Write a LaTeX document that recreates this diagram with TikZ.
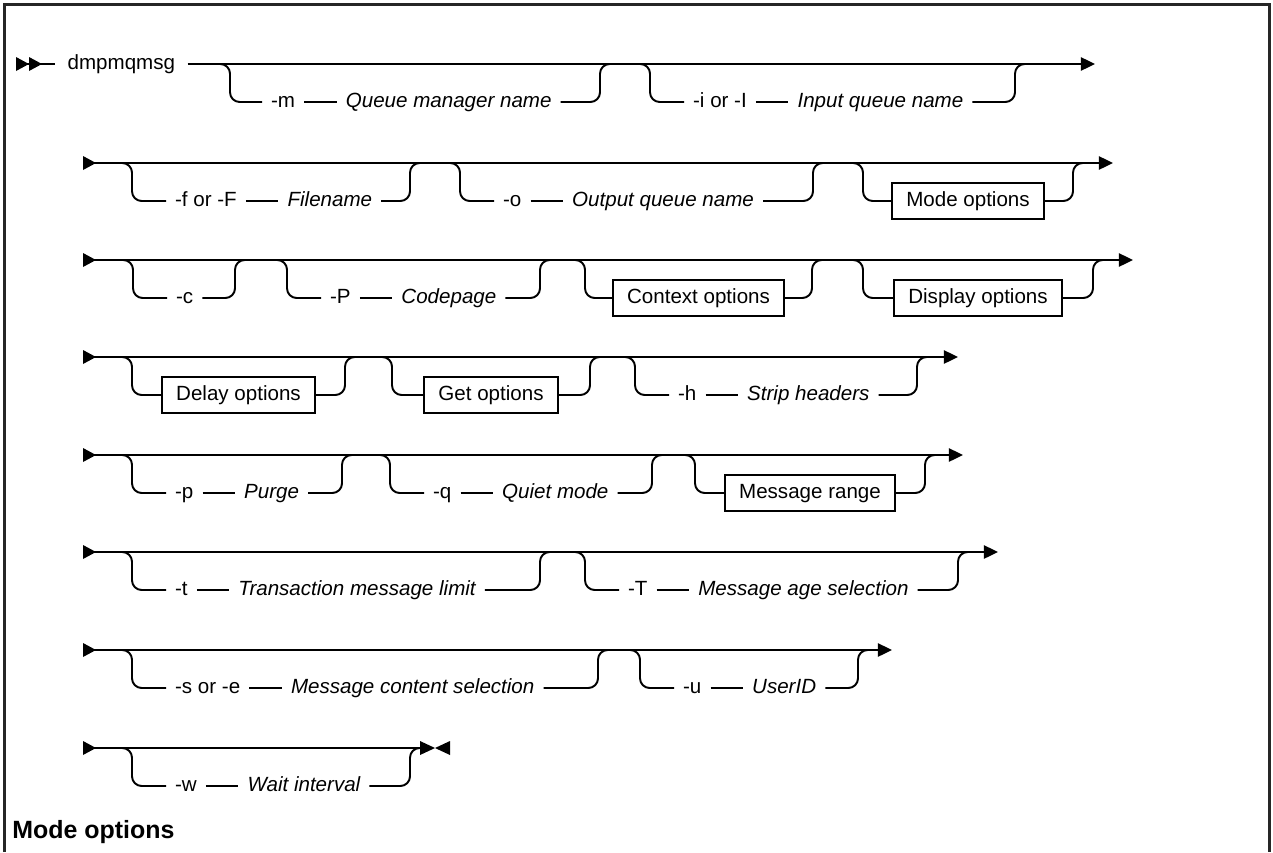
\documentclass[tikz,border=0pt]{standalone}
\usepackage{fontspec}
\setmainfont{Liberation Sans}
\usetikzlibrary{arrows.meta,positioning}

% filled start triangle of a rail row
\newcommand\railhead[1]{\fill (#1) +(0,-7) -- +(13,0) -- +(0,7) -- cycle;}

\begin{document}
\fontsize{11.7}{14}\selectfont
\begin{tikzpicture}[x=0.02cm,y=-0.02cm,
  rail/.style={line width=1.1pt, rounded corners=5.5pt},
  go/.style={-{Triangle[length=8pt,width=7.5pt]}},
  flag/.style={anchor=west, inner xsep=5pt, inner ysep=0pt, text height=1.55ex, text depth=.45ex},
  var/.style={flag, font=\itshape},
  optbox/.style={draw, line width=1.1pt, minimum height=0.72cm, inner xsep=8pt, text height=1.55ex, text depth=.45ex},
  node distance=0.65cm]
\useasboundingbox (0,0) rectangle (1273,852);

% frame
\draw[line width=1.7pt, black!85] (4.5,852) -- (4.5,4.5) -- (1269.5,4.5) -- (1269.5,852);

% row starts and ends
\coordinate (r1s) at (16,64);    \coordinate (r1e) at (1095,64);
\coordinate (r2s) at (83,163);   \coordinate (r2e) at (1113,163);
\coordinate (r3s) at (83,260);   \coordinate (r3e) at (1133,260);
\coordinate (r4s) at (83,357);   \coordinate (r4e) at (958,357);
\coordinate (r5s) at (83,455);   \coordinate (r5e) at (963,455);
\coordinate (r6s) at (83,552);   \coordinate (r6e) at (998,552);
\coordinate (r7s) at (83,650);   \coordinate (r7e) at (892,650);
\coordinate (r8s) at (83,748);   \coordinate (r8e) at (420,748);

% Row 1
\node[flag, inner xsep=7pt] (cmd) at (55,64) {dmpmqmsg};
\fill (r1s) +(0,-7) -- +(13,0) -- +(0,7) -- cycle;
\fill (r1s) +(13,-7) -- +(26,0) -- +(13,7) -- cycle;
\draw[rail] (r1s) -- (cmd.west);
\draw[rail,go] (cmd.east) -- ++(14,0) -- (r1e);
\node[flag] (m) at (262,102) {-m};
\node[var, right=of m] (qmgr) {Queue manager name};
\node[flag] (i) at (684,102) {-i or -I};
\node[var, right=of i] (inq) {Input queue name};

% Row 2
\node[flag] (f) at (166,201) {-f or -F};
\node[var, right=of f] (file) {Filename};
\node[flag] (o) at (494,201) {-o};
\node[var, right=of o] (outq) {Output queue name};
\node[optbox] (mode) at (968,201) {Mode options};

% Row 3
\node[flag] (c) at (167,298) {-c};
\node[flag] (P) at (321,298) {-P};
\node[var, right=of P] (cp) {Codepage};
\node[optbox] (ctx) at (698.5,298) {Context options};
\node[optbox] (disp) at (978,298) {Display options};

% Row 4
\node[optbox] (delay) at (238.5,395) {Delay options};
\node[optbox] (get) at (491,395) {Get options};
\node[flag] (h) at (669,395) {-h};
\node[var, right=of h] (strip) {Strip headers};

% Row 5
\node[flag] (p) at (166,493) {-p};
\node[var, right=of p] (purge) {Purge};
\node[flag] (q) at (424,493) {-q};
\node[var, right=of q] (quiet) {Quiet mode};
\node[optbox] (range) at (810,493) {Message range};

% Row 6
\node[flag] (t) at (166,590) {-t};
\node[var, right=of t] (txn) {Transaction message limit};
\node[flag] (T) at (619,590) {-T};
\node[var, right=of T] (age) {Message age selection};

% Row 7
\node[flag] (se) at (166,688) {-s or -e};
\node[var, right=of se] (content) {Message content selection};
\node[flag] (u) at (674,688) {-u};
\node[var, right=of u] (user) {UserID};

% Row 8
\node[flag] (w) at (166,786) {-w};
\node[var, right=of w] (wait) {Wait interval};

% main lines
\foreach \r in {2,...,7} {
  \railhead{r\r s}
  \draw[rail,go] (r\r s) -- (r\r e);
}
\railhead{r8s}
\draw[rail] (r8s) -- (r8e);
\fill (r8e) +(0,-7) -- +(15,0) -- +(0,7) -- cycle;
\fill (r8e) +(30,-7) -- +(15,0) -- +(30,7) -- cycle;

% flag to value links
\foreach \a/\b in {m/qmgr, i/inq, f/file, o/outq, P/cp, h/strip, p/purge, q/quiet,
                   t/txn, T/age, se/content, u/user, w/wait}
  \draw[rail] (\a.east) -- (\b.west);

% optional branches: down at \d, up at \u
\foreach \d/\u/\y/\a/\b in {230/600/64/m/qmgr, 650/1015/64/i/inq,
    132/410/163/f/file, 460/813/163/o/outq, 863/1073/163/mode/mode,
    133/235/260/c/c, 287/540/260/P/cp, 585/812/260/ctx/ctx, 863/1093/260/disp/disp,
    132/345/357/delay/delay, 392/590/357/get/get, 635/917/357/h/strip,
    132/342/455/p/purge, 390/652/455/q/quiet, 695/925/455/range/range,
    132/540/552/t/txn, 585/958/552/T/age,
    132/598/650/se/content, 640/858/650/u/user,
    132/410/748/w/wait} {
  \draw[rail] (\d-12,\y) -| (\d,\y+38) -- (\a.west);
  \draw[rail] (\b.east) -| (\u,\y) -- (\u+12,\y);
}

% heading
\node[anchor=west, inner sep=0pt, font=\bfseries\fontsize{14.2}{17}\selectfont] (modehead) at (12,832) {Mode options};
\end{tikzpicture}
\end{document}
